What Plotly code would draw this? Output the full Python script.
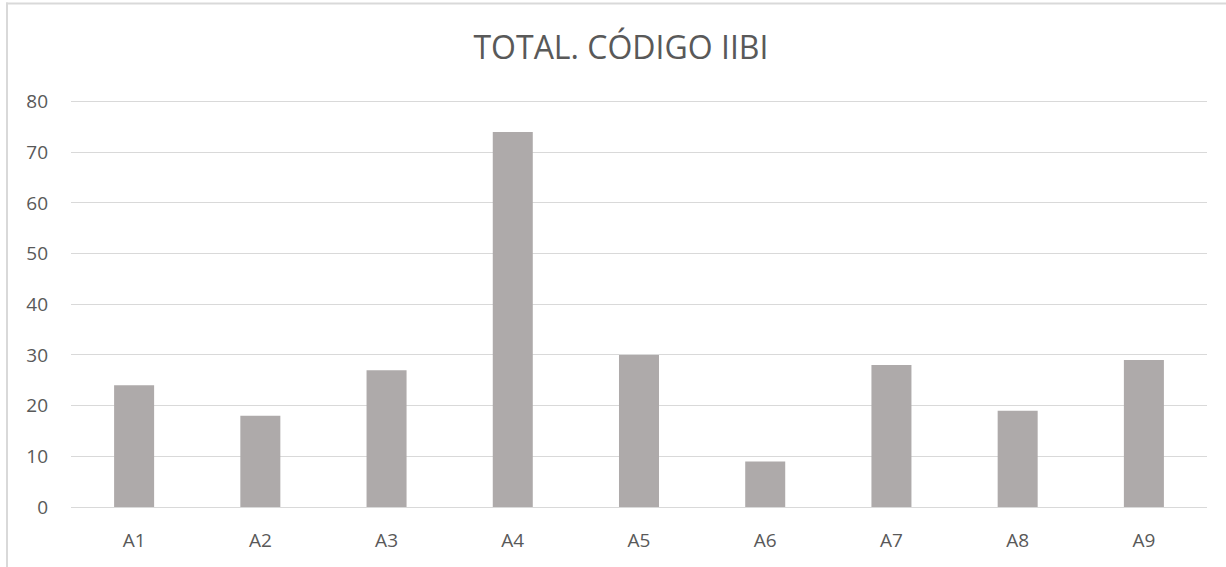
import plotly.graph_objects as go

categories = ["A1", "A2", "A3", "A4", "A5", "A6", "A7", "A8", "A9"]
values = [24, 18, 27, 74, 30, 9, 28, 19, 29]
y_ticks = [0, 10, 20, 30, 40, 50, 60, 70, 80]

W, H = 1226, 567
ml, mr, mt, mb = 71, 19, 99.5, 60
pw = W - ml - mr
ph = H - mt - mb
ymax = 80.3

fig = go.Figure(go.Bar(
    x=categories, y=values,
    marker=dict(color="#AEAAAA", line=dict(width=0)),
    hoverinfo="x+y",
))

fig.update_layout(
    width=W, height=H,
    margin=dict(l=ml, r=mr, t=mt, b=mb, autoexpand=False),
    paper_bgcolor="white", plot_bgcolor="white",
    bargap=0.683,
    font=dict(family="Open Sans, Liberation Sans, sans-serif", color="#595959", size=19),
    title=dict(text="TOTAL. CÓDIGO IIBI", x=0.5065, xref="container",
               xanchor="center", y=1 - 48 / H, yanchor="middle",
               font=dict(size=32, color="#595959")),
    showlegend=False,
    xaxis=dict(showgrid=False, showline=True, linecolor="#D9D9D9", linewidth=1,
               ticks="", ticklabelstandoff=16, tickfont=dict(size=19, color="#595959")),
    yaxis=dict(range=[0, ymax], tickvals=y_ticks, showgrid=True, gridcolor="#D9D9D9",
               gridwidth=1, zeroline=False, showline=False, ticks="",
               ticklabelstandoff=22, tickfont=dict(size=19, color="#595959")),
    shapes=[
        dict(type="line", xref="paper", yref="paper",
             x0=(7 - ml) / pw, x1=(7 - ml) / pw, y0=(H - mb - 2) / ph, y1=(H - mb - H - 5) / ph,
             line=dict(color="#D9D9D9", width=2)),
        dict(type="line", xref="paper", yref="paper",
             x0=(6 - ml) / pw, x1=(W + 5 - ml) / pw, y0=(H - mb - 3) / ph, y1=(H - mb - 3) / ph,
             line=dict(color="#D9D9D9", width=2)),
    ],
)

fig.write_html("out.html", config={"displayModeBar": False},
               post_script="document.body.style.margin='0';")
